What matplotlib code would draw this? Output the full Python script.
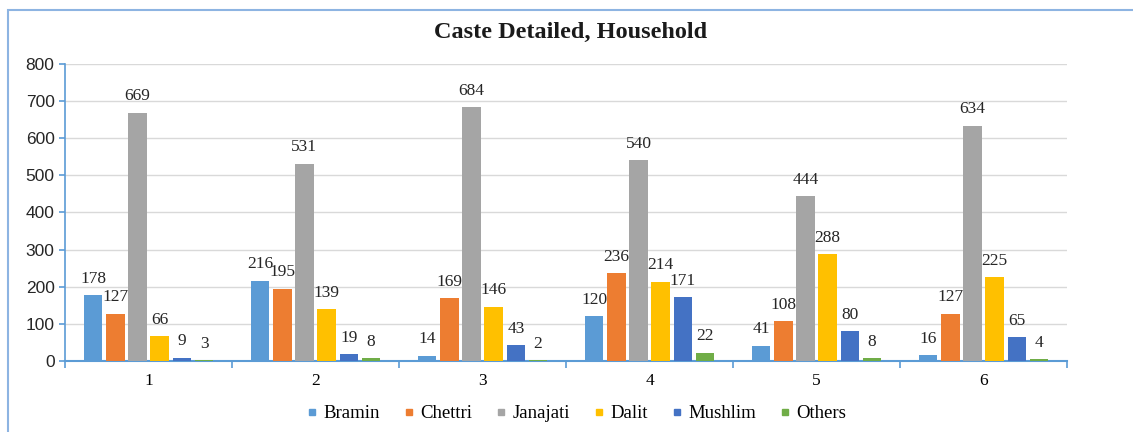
import numpy as np
import matplotlib.pyplot as plt
from matplotlib.patches import Rectangle
from matplotlib.lines import Line2D

groups = ["1", "2", "3", "4", "5", "6"]
bramin = [178, 216, 14, 120, 41, 16]
chettri = [127, 195, 169, 236, 108, 127]
janajati = [669, 531, 684, 540, 444, 634]
dalit = [66, 139, 146, 214, 288, 225]
mushlim = [9, 19, 43, 171, 80, 65]
others = [3, 8, 2, 22, 8, 4]

names = ["Bramin", "Chettri", "Janajati", "Dalit", "Mushlim", "Others"]
series = [bramin, chettri, janajati, dalit, mushlim, others]
colors = ["#5B9BD5", "#ED7D31", "#A5A5A5", "#FFC000", "#4472C4", "#70AD47"]

serif = "Liberation Serif"
sans = "Liberation Sans"

fig = plt.figure(figsize=(11.33, 4.32), dpi=100)
ax = fig.add_axes([0.0574, 0.1644, 0.8844, 0.6876])

x = np.arange(len(groups))
step = 0.133
width = 0.112
for i, (vals, c) in enumerate(zip(series, colors)):
    pos = x + (i - 2.5) * step
    bars = ax.bar(pos, vals, width, color=c, zorder=3)
    for b, v in zip(bars, vals):
        ax.annotate(str(v), (b.get_x() + b.get_width() / 2, v),
                    xytext=(0, 6), textcoords="offset points",
                    ha="center", va="bottom", fontsize=12.5,
                    family=serif, color="#262626")

ax.set_xlim(-0.5, len(groups) - 0.5)
ax.set_ylim(0, 800)
ax.set_yticks(range(0, 801, 100))
ax.yaxis.grid(True, color="#D9D9D9", lw=1, zorder=0)
ax.set_axisbelow(True)

# group labels centred, tick marks on group boundaries
ax.set_xticks(x)
ax.set_xticklabels(groups, family=serif, fontsize=12.5)
ax.set_xticks(np.arange(-0.5, len(groups) + 0.5, 1), minor=True)
ax.tick_params(axis="x", which="major", length=0, pad=9)
ax.tick_params(axis="x", which="minor", length=5, color="#5B9BD5", width=1.2)
ax.tick_params(axis="y", length=4, color="#5B9BD5", width=1.2, labelsize=12.5,
               labelcolor="#262626")
for lab in ax.get_yticklabels():
    lab.set_family(sans)

for s in ["top", "right"]:
    ax.spines[s].set_visible(False)
ax.spines["left"].set_color("#5B9BD5")
ax.spines["bottom"].set_color("#5B9BD5")
ax.spines["left"].set_linewidth(1.2)
ax.spines["bottom"].set_linewidth(1.5)

fig.text(0.504, 0.925, "Caste Detailed, Household", ha="center", va="center",
         family=serif, fontsize=17.5, fontweight="bold", color="#1a1a1a")

handles = [Line2D([], [], marker="s", ls="", color=c, markersize=4) for c in colors]
fig.legend(handles, names, loc="center", bbox_to_anchor=(0.507, 0.042), ncol=6,
           frameon=False, prop={"family": serif, "size": 13.5},
           handletextpad=0.1, columnspacing=1.05, handlelength=1.0)

fig.patches.append(Rectangle((8 / 1133, -0.01), 1.1, 1 - 10 / 432 + 0.01,
                             transform=fig.transFigure, fill=False,
                             edgecolor="#8DB4E2", lw=1.5))

fig.savefig("out.png", dpi=100)
